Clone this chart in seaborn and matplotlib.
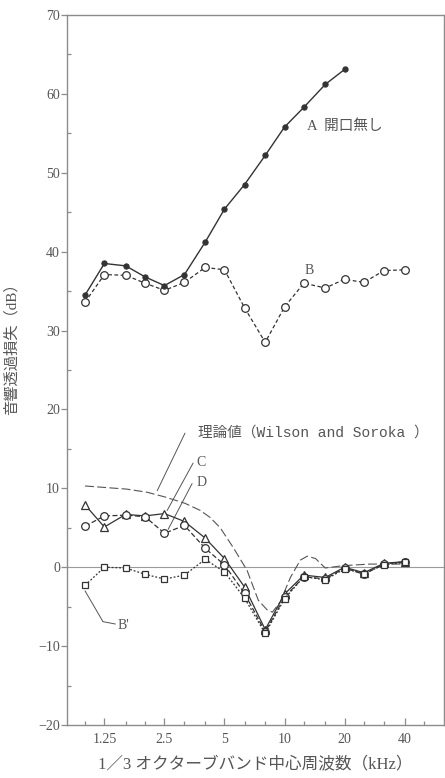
import matplotlib
matplotlib.use("Agg")
import matplotlib.pyplot as plt
import seaborn as sns
from matplotlib.ticker import FixedLocator, FixedFormatter, NullFormatter, MultipleLocator

# 1/3-octave band centre frequencies (kHz)
bands = [1, 1.25, 1.6, 2, 2.5, 3.15, 4, 5, 6.3, 8, 10, 12.5, 16, 20, 25, 31.5, 40]
bands_a = bands[:14]

# Transmission loss (dB)
loss_a = [34.5, 38.5, 38.2, 36.8, 35.7, 37.1, 41.2, 45.4, 48.5, 52.2, 55.8, 58.3, 61.2, 63.1]
loss_b = [33.6, 37.1, 37.0, 36.0, 35.1, 36.1, 38.0, 37.7, 32.9, 28.5, 33.0, 36.0, 35.4, 36.5,
          36.1, 37.6, 37.7]

# Differences
diff_c = [7.9, 5.1, 6.7, 6.5, 6.8, 5.8, 3.7, 1.1, -2.5, -7.9, -3.4, -1.0, -1.3, 0.0, -0.7, 0.5, 0.7]
diff_d = [5.2, 6.5, 6.6, 6.4, 4.3, 5.3, 2.4, 0.3, -3.3, -8.2, -3.8, -1.2, -1.5, -0.1, -0.9, 0.4, 0.7]
diff_b2 = [-2.3, 0.0, -0.1, -0.9, -1.5, -1.0, 1.0, -0.6, -3.9, -8.4, -4.0, -1.2, -1.6, -0.2,
           -0.8, 0.3, 0.6]

# Theoretical curve (Wilson and Soroka)
theory_f = [1.0, 1.27, 1.62, 2.05, 2.52, 3.17, 3.78, 4.24, 4.76, 5.53, 6.49, 7.39, 8.18, 8.69,
            9.51, 10.7, 12.0, 13.0, 14.3, 16.0, 19.7, 26.9, 38.1]
theory_db = [10.3, 10.1, 9.9, 9.5, 8.9, 8.1, 7.2, 6.3, 5.0, 2.5, -0.4, -4.2, -5.4, -5.7,
             -4.4, -1.3, 0.9, 1.4, 1.1, -0.1, 0.2, 0.4, 0.4]

major_ticks = [1.25, 2.5, 5, 10, 20, 40]
major_labels = ["1.25", "2.5", "5", "10", "20", "40"]
minor_ticks = [1, 1.6, 2, 3.15, 4, 6.3, 8, 12.5, 16, 25, 31.5, 50]

sns.set_style("ticks")
plt.rcParams["font.family"] = ["Liberation Serif", "Noto Sans CJK JP"]

ink = "#333333"
txt = "#555555"
frame = "#8c8c8c"

fig = plt.figure(figsize=(4.45, 7.78), dpi=100)
ax = fig.add_axes([67 / 445, 53 / 778, 377 / 445, 710 / 778])
ax.set_xscale("log", base=2)

ax.axhline(0, color="#9a9a9a", lw=0.8, zorder=1)

sns.lineplot(x=theory_f, y=theory_db, ax=ax, color="#555555", lw=0.8,
             linestyle=(0, (8, 3)), zorder=2)

sns.lineplot(x=bands_a, y=loss_a, ax=ax, color=ink, lw=1.0, marker="o",
             markersize=3.8, markerfacecolor=ink, markeredgecolor=ink, zorder=4)
sns.lineplot(x=bands, y=loss_b, ax=ax, color=ink, lw=0.9, linestyle=(0, (3, 2)),
             marker="o", markersize=5.5, markerfacecolor="white",
             markeredgecolor=ink, markeredgewidth=0.9, zorder=3)

sns.lineplot(x=bands, y=diff_c, ax=ax, color=ink, lw=0.9, marker="^",
             markersize=6, markerfacecolor="white", markeredgecolor=ink,
             markeredgewidth=0.9, zorder=4)
sns.lineplot(x=bands, y=diff_d, ax=ax, color=ink, lw=0.9, linestyle=(0, (4, 2)),
             marker="o", markersize=5.5, markerfacecolor="white",
             markeredgecolor=ink, markeredgewidth=0.9, zorder=4)
sns.lineplot(x=bands, y=diff_b2, ax=ax, color=ink, lw=0.9, linestyle=(0, (1.5, 1.5)),
             marker="s", markersize=5, markerfacecolor="white",
             markeredgecolor=ink, markeredgewidth=0.9, zorder=4)

ax.set_xlim(0.812, 63.0)
ax.set_ylim(-20, 70)

ax.xaxis.set_major_locator(FixedLocator(major_ticks))
ax.xaxis.set_major_formatter(FixedFormatter(major_labels))
ax.xaxis.set_minor_locator(FixedLocator(minor_ticks))
ax.xaxis.set_minor_formatter(NullFormatter())
ax.yaxis.set_major_locator(MultipleLocator(10))
ax.yaxis.set_minor_locator(MultipleLocator(5))

ax.tick_params(axis="x", which="major", direction="in", length=5, width=0.9,
               colors=frame, labelcolor=txt, labelsize=10, pad=6)
ax.tick_params(axis="x", which="minor", direction="in", length=3, width=0.9, colors=frame)
ax.tick_params(axis="y", which="major", direction="out", length=4, width=0.9,
               colors=frame, labelcolor=txt, labelsize=10, pad=1)
ax.tick_params(axis="y", which="minor", direction="in", length=3, width=0.9, colors=frame)

for s in ax.spines.values():
    s.set_visible(True)
    s.set_color(frame)
    s.set_linewidth(1.0)

ax.set_xlabel("1／3 オクターブバンド中心周波数（kHz）", color=txt, fontsize=12, labelpad=7)
ax.set_ylabel("音響透過損失（dB）", color=txt, fontsize=11, labelpad=6)
ax.yaxis.set_label_coords(-0.128, 0.535)

# Series labels
ax.text(13.0, 55.9, "A  開口無し", color=txt, fontsize=10.5, ha="left", va="center")
ax.text(13.3, 37.6, "B", color=txt, fontsize=10, ha="center", va="center")
ax.text(3.69, 17.1, "理論値（Wilson and Soroka ）", color=txt, fontsize=10.5,
        ha="left", va="center", family=["Liberation Mono", "Noto Sans CJK JP"])
ax.text(3.62, 13.3, "C", color=txt, fontsize=10, ha="left", va="center")
ax.text(3.62, 10.8, "D", color=txt, fontsize=10, ha="left", va="center")
ax.text(1.45, -7.4, "B'", color=txt, fontsize=10, ha="left", va="center")

leader = dict(arrowstyle="-", color="#555555", lw=0.7, shrinkA=0, shrinkB=0)
ax.annotate("", xy=(2.3, 9.7), xytext=(3.17, 17.0), arrowprops=leader)
ax.annotate("", xy=(2.58, 7.2), xytext=(3.48, 13.2), arrowprops=leader)
ax.annotate("", xy=(2.61, 4.8), xytext=(3.44, 10.6), arrowprops=leader)
ax.annotate("", xy=(1.0, -3.0), xytext=(1.23, -6.9), arrowprops=leader)
ax.annotate("", xy=(1.23, -6.9), xytext=(1.42, -7.2), arrowprops=leader)

fig.savefig("out.png", dpi=100, facecolor="white")
